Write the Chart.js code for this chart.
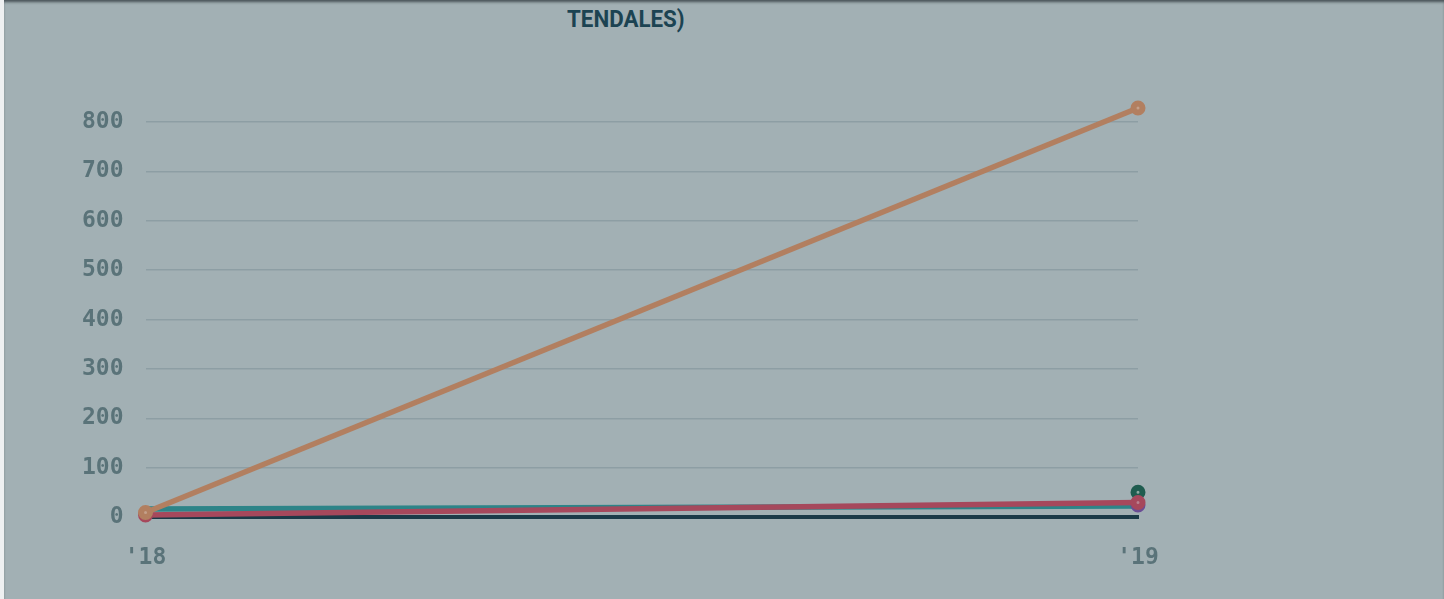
<!DOCTYPE html>
<html>
<head>
<meta charset="utf-8">
<script src="https://cdn.jsdelivr.net/npm/chart.js@4/dist/chart.umd.min.js"></script>
<style>
  html, body { margin: 0; padding: 0; background: #eef0f1; }
  #wrap { position: absolute; left: 4px; top: 0; width: 1440px; height: 599px; background: #a2b0b4;
          box-shadow: inset 0 3px 3px -1px rgba(40,50,55,0.75); overflow: hidden; }
  #title { position: absolute; top: 5px; left: 563px; font-family: Roboto, sans-serif; font-weight: 700;
           font-size: 24px; color: #1c4352; transform: scaleX(0.93); transform-origin: left top; }
  canvas { position: absolute; left: 0; top: 0; }
</style>
</head>
<body>
<div id="wrap">
  <div id="title">TENDALES)</div>
  <canvas id="c" width="1440" height="599"></canvas>
</div>
<script>
const categories = ["'18", "'19"];
const seriesOrange = [10, 828];
const seriesRed = [5, 30];
const seriesGreen = [null, 51];
const seriesPurple = [null, 25];
const seriesTeal = [17, 23];
const yTicks = [0, 100, 200, 300, 400, 500, 600, 700, 800];

function ds(data, color, fill, radius) {
  return { data, borderColor: color, backgroundColor: fill, pointBackgroundColor: fill,
           pointBorderColor: color, borderWidth: 5.5, pointRadius: radius, pointBorderWidth: 6,
           pointHoverRadius: radius, tension: 0, clip: false, spanGaps: false };
}

new Chart(document.getElementById('c'), {
  type: 'line',
  data: {
    labels: categories,
    datasets: [
      ds(seriesOrange, '#b27f60', '#c4a08a', 4.5),
      ds(seriesRed, '#a6485c', '#b98290', 4.5),
      ds(seriesGreen, '#1f5c4f', '#8ea9a1', 4.5),
      ds(seriesPurple, '#6a4d95', '#9a86b8', 4.5),
      ds(seriesTeal, '#2d8488', '#7fb0b2', 0)
    ]
  },
  options: {
    responsive: false,
    animation: false,
    layout: { padding: { left: 56, right: 306, top: 107, bottom: 0 } },
    plugins: { legend: { display: false }, title: { display: false }, tooltip: { enabled: false } },
    scales: {
      x: {
        offset: false,
        grid: { display: false, drawTicks: false },
        border: { display: true, color: '#1b3a48', width: 4 },
        ticks: { color: '#5a7379', padding: 27, font: { family: 'DejaVu Sans Mono', weight: 'bold', size: 23 } }
      },
      y: {
        min: 0, max: 830,
        afterBuildTicks: (s) => { s.ticks = yTicks.map(v => ({ value: v })); },
        grid: { color: '#8d9ea4', lineWidth: 1.5, drawTicks: false },
        border: { display: false },
        ticks: { color: '#5a7379', padding: 22, font: { family: 'DejaVu Sans Mono', weight: 'bold', size: 23 } }
      }
    }
  }
});
</script>
</body>
</html>
